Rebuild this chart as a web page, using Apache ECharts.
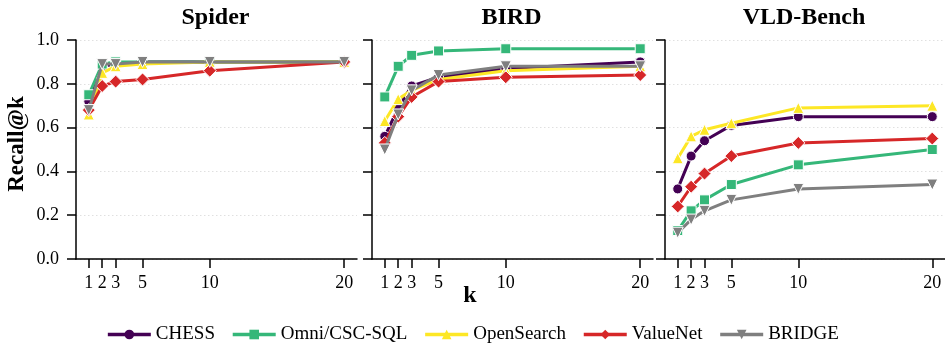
<!DOCTYPE html>
<html>
<head>
<meta charset="utf-8">
<script src="https://cdn.jsdelivr.net/npm/echarts@6/dist/echarts.min.js"></script>
<style>html,body{margin:0;padding:0;background:#fff}#c{width:945px;height:346px}</style>
</head>
<body>
<div id="c"></div>
<script>
const kValues = [1, 2, 3, 5, 10, 20];
const panels = ['Spider', 'BIRD', 'VLD-Bench'];
const yTicks = [0, 0.2, 0.4, 0.6, 0.8, 1.0];
const methods = ['CHESS', 'Omni/CSC-SQL', 'OpenSearch', 'ValueNet', 'BRIDGE'];

// Spider
const spiderCHESS      = [0.72, 0.88, 0.89, 0.90, 0.90, 0.90];
const spiderOmni       = [0.75, 0.89, 0.90, 0.90, 0.90, 0.90];
const spiderOpenSearch = [0.66, 0.85, 0.88, 0.89, 0.90, 0.90];
const spiderValueNet   = [0.68, 0.79, 0.81, 0.82, 0.86, 0.90];
const spiderBRIDGE     = [0.68, 0.89, 0.89, 0.90, 0.90, 0.90];
// BIRD
const birdCHESS      = [0.56, 0.69, 0.79, 0.83, 0.87, 0.90];
const birdOmni       = [0.74, 0.88, 0.93, 0.95, 0.96, 0.96];
const birdOpenSearch = [0.63, 0.73, 0.77, 0.82, 0.86, 0.88];
const birdValueNet   = [0.53, 0.65, 0.74, 0.81, 0.83, 0.84];
const birdBRIDGE     = [0.50, 0.66, 0.77, 0.84, 0.88, 0.88];
// VLD-Bench
const vldCHESS      = [0.32, 0.47, 0.54, 0.61, 0.65, 0.65];
const vldOmni       = [0.13, 0.22, 0.27, 0.34, 0.43, 0.50];
const vldOpenSearch = [0.46, 0.56, 0.59, 0.62, 0.69, 0.70];
const vldValueNet   = [0.24, 0.33, 0.39, 0.47, 0.53, 0.55];
const vldBRIDGE     = [0.12, 0.18, 0.22, 0.27, 0.32, 0.34];

const panelData = [
  [spiderCHESS, spiderOmni, spiderOpenSearch, spiderValueNet, spiderBRIDGE],
  [birdCHESS, birdOmni, birdOpenSearch, birdValueNet, birdBRIDGE],
  [vldCHESS, vldOmni, vldOpenSearch, vldValueNet, vldBRIDGE]
];

const colors = ['#440154', '#35b779', '#fde725', '#d62728', '#7f7f7f'];
const symbols = ['circle', 'rect', 'triangle', 'diamond', 'triangle'];
const symbolSizes = [10, 10, 11, 13, 11];
const symbolRotates = [0, 0, 0, 0, 180];

const SERIF = '"Liberation Serif", "DejaVu Serif", serif';
const gridLefts = [76, 372, 665];
const gridWidths = [281, 281, 280];

const grids = [], xAxes = [], yAxes = [], series = [], titles = [];
panels.forEach((p, i) => {
  grids.push({ left: gridLefts[i], top: 40, width: gridWidths[i], height: 219, containLabel: false });
  titles.push({
    text: p, left: gridLefts[i] + gridWidths[i] / 2 - 1, top: 6, textAlign: 'center', padding: 0,
    textStyle: { fontFamily: SERIF, fontWeight: 'bold', fontSize: 24, color: '#000' }
  });
  xAxes.push({
    type: 'value', gridIndex: i, min: 0.05, max: 20.95,
    axisLine: { show: true, lineStyle: { color: '#000', width: 1.5 } },
    axisTick: { show: true, length: 9, lineStyle: { color: '#000', width: 1.5 }, customValues: kValues },
    axisLabel: { customValues: kValues, fontFamily: SERIF, fontSize: 18, color: '#000', margin: 15 },
    splitLine: { show: false }
  });
  yAxes.push({
    type: 'value', gridIndex: i, min: 0, max: 1, interval: 0.2,
    axisLine: { show: true, lineStyle: { color: '#000', width: 1.5 } },
    axisTick: { show: true, length: 9, lineStyle: { color: '#000', width: 1.5 } },
    axisLabel: { show: i === 0, fontFamily: SERIF, fontSize: 18, color: '#000', margin: 17,
      formatter: v => v.toFixed(1) },
    splitLine: { show: true, lineStyle: { color: '#d8d8d8', width: 0.8, type: [1.5, 2.5] } }
  });
  methods.forEach((m, j) => {
    series.push({
      name: m, type: 'line', xAxisIndex: i, yAxisIndex: i,
      data: kValues.map((k, t) => [k, panelData[i][j][t]]),
      symbol: symbols[j], symbolSize: symbolSizes[j], symbolRotate: symbolRotates[j],
      showAllSymbol: true,
      lineStyle: { color: colors[j], width: 3 },
      itemStyle: { color: colors[j], borderColor: '#fff', borderWidth: 1 },
      emphasis: { disabled: true },
      animation: false, z: 2 + j
    });
  });
});

const chart = echarts.init(document.getElementById('c'), null, { renderer: 'canvas' });
chart.setOption({
  animation: false,
  backgroundColor: '#fff',
  title: titles,
  grid: grids,
  xAxis: xAxes,
  yAxis: yAxes,
  series: series,
  legend: {
    data: methods, left: 'center', top: 320, itemWidth: 43, itemHeight: 12, itemGap: 16,
    lineStyle: { width: 3.5 },
    itemStyle: { borderWidth: 0 },
    textStyle: { fontFamily: SERIF, fontSize: 19, color: '#000' }
  },
  graphic: [
    { type: 'text', x: 17, y: 144, rotation: Math.PI / 2,
      style: { text: 'Recall@k', font: 'bold 23px ' + SERIF, fill: '#000', textAlign: 'center', textVerticalAlign: 'middle' } },
    { type: 'text', x: 470, y: 296,
      style: { text: 'k', font: 'bold 24px ' + SERIF, fill: '#000', textAlign: 'center', textVerticalAlign: 'middle' } }
  ]
});
</script>
</body>
</html>
